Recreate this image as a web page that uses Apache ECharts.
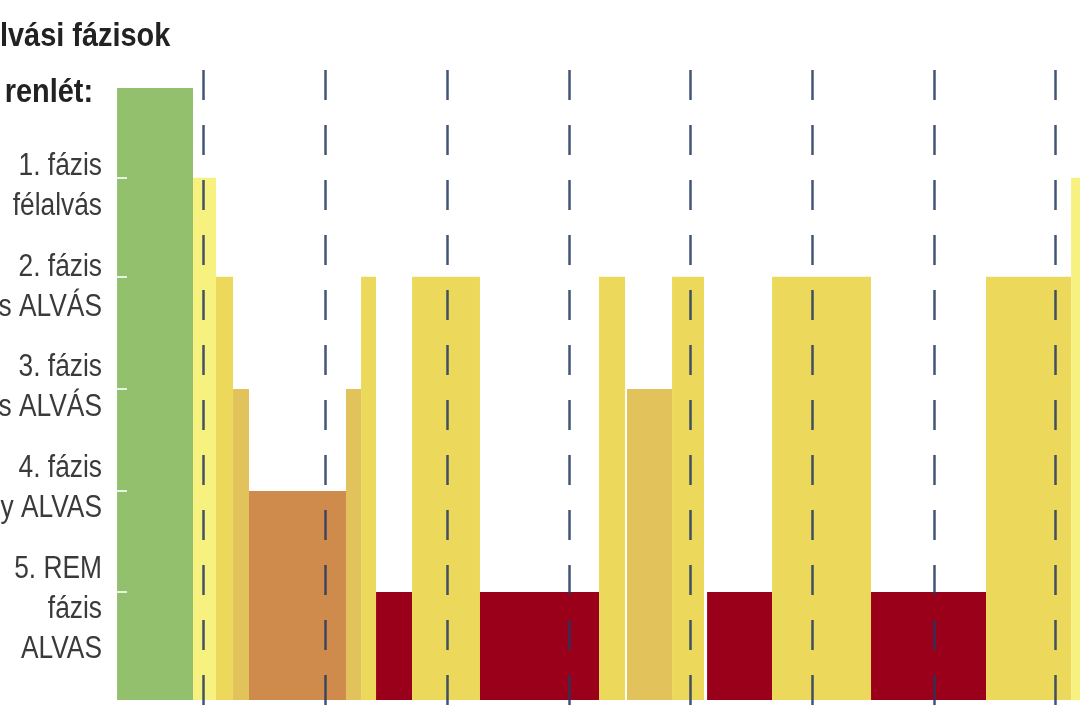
<!DOCTYPE html>
<html><head><meta charset="utf-8">
<script src="https://cdn.jsdelivr.net/npm/echarts@6/dist/echarts.min.js"></script>
<style>html,body{margin:0;padding:0;background:#fff}#c{width:1080px;height:720px}</style>
</head><body><div id="c"></div>
<script>
// ---- data ----
const titleText = 'lvási fázisok';
const awakeLabel = 'renlét:';
const phaseLabels = ['1. fázis\nfélalvás', '2. fázis\ns ALVÁS', '3. fázis\ns ALVÁS', '4. fázis\ny ALVAS', '5. REM\nfázis\nALVAS'];
const labelLevels = [5, 4, 3, 2, 1];
const phaseKeys = ['awake', 'p1', 'p2', 'p3', 'p4', 'rem'];
const phaseHeights = [6, 5.12, 4.15, 3.05, 2.05, 1.06];
const hourMin = 0, hourMax = 8.2;
// sleep hypnogram segments (hours)
const segStart = [0.288, 0.912, 1.101, 1.241, 1.372, 2.169, 2.293, 2.416, 2.712, 3.270, 4.248, 4.478, 4.848, 5.136, 5.670, 6.483, 7.428, 8.127];
const segEnd   = [0.912, 1.101, 1.241, 1.372, 2.169, 2.293, 2.416, 2.712, 3.270, 4.248, 4.462, 4.848, 5.111, 5.670, 6.483, 7.428, 8.127, 8.300];
const segPhase = ['awake', 'p1', 'p2', 'p3', 'p4', 'p3', 'p2', 'rem', 'p2', 'rem', 'p2', 'p3', 'p2', 'rem', 'p2', 'rem', 'p2', 'p1'];

const phaseColors = {awake: '#93c06d', p1: '#f7f17f', p2: '#ecd95c', p3: '#e2c25b', p4: '#cf8b4b', rem: '#9a001a'};
const FONT = '"Liberation Sans", Arial, sans-serif';
const NARROW = 0.85;

const heightOf = k => phaseHeights[phaseKeys.indexOf(k)];
const segData = segStart.map((s, i) => [s, segEnd[i], heightOf(segPhase[i])]);

const chart = echarts.init(document.getElementById('c'), null, {renderer: 'canvas'});
chart.setOption({
  animation: false,
  backgroundColor: '#fff',
  grid: [
    {left: 82, right: 0, top: 88, bottom: 20},
    {left: 82, right: 0, top: 70, bottom: 5}
  ],
  xAxis: [
    {gridIndex: 0, type: 'value', min: hourMin, max: hourMax, show: false},
    {gridIndex: 1, type: 'value', min: hourMin, max: hourMax, interval: 1, z: 10,
      axisLine: {show: false}, axisTick: {show: false}, axisLabel: {show: false},
      splitLine: {show: true, showMinLine: false, showMaxLine: false,
        lineStyle: {type: [30, 25], color: 'rgba(35,55,95,0.85)', width: 2.5}}}
  ],
  yAxis: [
    {gridIndex: 0, type: 'value', min: 0, max: 6, offset: -35, z: 10,
      axisLine: {show: false}, splitLine: {show: false}, axisLabel: {show: false},
      axisTick: {show: true, inside: true, length: 10, customValues: phaseHeights.slice(1),
        lineStyle: {color: 'rgba(255,255,255,0.8)', width: 2}}},
    {gridIndex: 0, type: 'value', min: -0.3, max: 5.78, show: false},
    {gridIndex: 1, type: 'value', min: 0, max: 1, show: false}
  ],
  series: [{
    type: 'custom',
    xAxisIndex: 0, yAxisIndex: 0,
    data: segData,
    encode: {x: [0, 1], y: 2},
    renderItem(params, api) {
      const p0 = api.coord([api.value(0), api.value(2)]);
      const p1 = api.coord([api.value(1), 0]);
      const shape = echarts.graphic.clipRectByRect(
        {x: p0[0], y: p0[1], width: p1[0] - p0[0], height: p1[1] - p0[1]}, params.coordSys);
      return shape && {type: 'rect', shape, style: {fill: phaseColors[segPhase[params.dataIndex]]}};
    }
  }]
});

const g = [];
g.push({type: 'text', x: 0, y: 37, scaleX: NARROW, style: {text: titleText, font: 'bold 34px ' + FONT, fill: '#222', align: 'left', verticalAlign: 'middle'}});
const awakeY = chart.convertToPixel({yAxisIndex: 0}, phaseHeights[0]);
g.push({type: 'text', x: 93, y: awakeY + 5, scaleX: NARROW, style: {text: awakeLabel, font: 'bold 34px ' + FONT, fill: '#222', align: 'right', verticalAlign: 'middle'}});
phaseLabels.forEach((t, i) => {
  const y = chart.convertToPixel({yAxisIndex: 1}, labelLevels[i]);
  g.push({type: 'text', x: 102, y: y - 20, scaleX: NARROW, style: {text: t, font: '31px ' + FONT, lineHeight: 40, fill: '#3a3a3a', align: 'right', verticalAlign: 'top'}});
});
chart.setOption({graphic: g});
</script>
</body></html>
